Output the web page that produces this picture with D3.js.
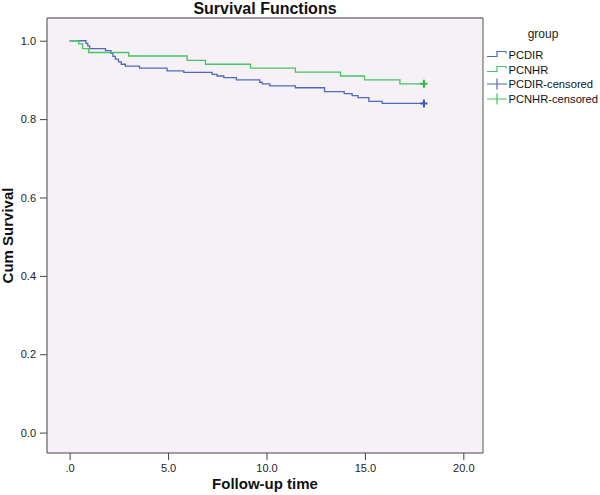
<!DOCTYPE html>
<html>
<head>
<meta charset="utf-8">
<script src="https://cdn.jsdelivr.net/npm/d3@7/dist/d3.min.js"></script>
<style>
  html, body { margin: 0; padding: 0; background: #ffffff; }
  svg { display: block; font-family: "Liberation Sans", Arial, sans-serif; }
</style>
</head>
<body>
<svg id="chart" width="600" height="495"></svg>
<script>
// ---- data ----
const groups = ["PCDIR", "PCNHR"];
const pcdirTimes = [0, 0.83, 0.92, 1.02, 1.82, 2.10, 2.20, 2.32, 2.48, 2.62, 2.83, 3.55, 4.95, 5.80, 7.24, 7.49, 7.83, 8.47, 9.66, 9.78, 10.17, 11.47, 12.95, 13.95, 14.35, 14.65, 15.20, 15.88];
const pcdirSurv  = [1.0, 0.993, 0.987, 0.980, 0.975, 0.968, 0.960, 0.953, 0.946, 0.940, 0.935, 0.930, 0.923, 0.919, 0.914, 0.910, 0.906, 0.900, 0.894, 0.890, 0.885, 0.880, 0.870, 0.865, 0.860, 0.855, 0.845, 0.840];
const pcnhrTimes = [0, 0.46, 0.66, 0.97, 3.00, 5.97, 6.90, 9.19, 11.47, 13.76, 14.98, 16.78];
const pcnhrSurv  = [1.0, 0.992, 0.980, 0.970, 0.961, 0.950, 0.940, 0.930, 0.920, 0.910, 0.900, 0.890];
const censorTimes = [18.0, 18.0];
const xTicks = [0, 5, 10, 15, 20];
const xTickLabels = [".0", "5.0", "10.0", "15.0", "20.0"];
const yTicks = [0, 0.2, 0.4, 0.6, 0.8, 1.0];
const yTickLabels = ["0.0", "0.2", "0.4", "0.6", "0.8", "1.0"];
const legendLabels = ["PCDIR", "PCNHR", "PCDIR-censored", "PCNHR-censored"];
const colors = ["#5068c2", "#48c464"];
const markColors = ["#3e58ac", "#2eb848"];

const svg = d3.select("#chart");
const L = 47, R = 483, T = 18, B = 453;

const x = d3.scaleLinear().domain([-1.15, 21.0]).range([L, R]);
const y = d3.scaleLinear().domain([-0.052, 1.058]).range([B, T]);

// plot background
svg.append("rect").attr("x", L).attr("y", T).attr("width", R - L).attr("height", B - T)
  .attr("fill", "#f6f1f6");

// frame
svg.append("line").attr("x1", L).attr("x2", R).attr("y1", T).attr("y2", T)
  .attr("stroke", "#9a9a9a").attr("stroke-width", 2);
svg.append("line").attr("x1", R).attr("x2", R).attr("y1", T).attr("y2", B)
  .attr("stroke", "#555").attr("stroke-width", 1);

// axes
const yAxis = d3.axisLeft(y).tickValues(yTicks).tickSize(7).tickPadding(4)
  .tickFormat((d, i) => yTickLabels[i]);
const gy = svg.append("g").attr("transform", `translate(${L},0)`).call(yAxis);
gy.select(".domain").attr("d", `M0,${T}V${B}`).attr("stroke", "#444");
gy.selectAll(".tick line").attr("stroke", "#444");
gy.selectAll(".tick text").attr("font-size", 11).attr("fill", "#222")
  .attr("font-family", "Liberation Sans, Arial, sans-serif");

const xAxis = d3.axisBottom(x).tickValues(xTicks).tickSize(7).tickPadding(4)
  .tickFormat((d, i) => xTickLabels[i]);
const gx = svg.append("g").attr("transform", `translate(0,${B})`).call(xAxis);
gx.select(".domain").attr("d", `M${L},0H${R}`).attr("stroke", "#444");
gx.selectAll(".tick line").attr("stroke", "#444");
gx.selectAll(".tick text").attr("font-size", 11).attr("fill", "#222")
  .attr("font-family", "Liberation Sans, Arial, sans-serif");

// curves
const seriesData = [
  pcdirTimes.map((t, i) => ({ t, s: pcdirSurv[i] })).concat([{ t: censorTimes[0], s: pcdirSurv[pcdirSurv.length - 1] }]),
  pcnhrTimes.map((t, i) => ({ t, s: pcnhrSurv[i] })).concat([{ t: censorTimes[1], s: pcnhrSurv[pcnhrSurv.length - 1] }])
];
const line = d3.line().x(d => x(d.t)).y(d => y(d.s)).curve(d3.curveStepAfter);
svg.selectAll("path.km").data(seriesData).join("path")
  .attr("class", "km")
  .attr("d", line)
  .attr("fill", "none")
  .attr("stroke", (d, i) => colors[i])
  .attr("stroke-width", 1.3);

// censored marks
seriesData.forEach((d, i) => {
  const last = d[d.length - 1];
  const cx = x(last.t), cy = y(last.s);
  svg.append("path")
    .attr("d", `M${cx - 3.5},${cy}H${cx + 3.5}M${cx},${cy - 4}V${cy + 4}`)
    .attr("stroke", markColors[i]).attr("stroke-width", 2).attr("fill", "none");
});

// titles
svg.append("text").attr("x", (L + R) / 2).attr("y", 14).attr("text-anchor", "middle")
  .attr("font-size", 16).attr("font-weight", "bold").attr("fill", "#111")
  .text("Survival Functions");
svg.append("text").attr("x", (L + R) / 2).attr("y", 489).attr("text-anchor", "middle")
  .attr("font-size", 15).attr("font-weight", "bold").attr("fill", "#111")
  .text("Follow-up time");
svg.append("text").attr("transform", `translate(13,${(T + B) / 2}) rotate(-90)`)
  .attr("text-anchor", "middle")
  .attr("font-size", 15).attr("font-weight", "bold").attr("fill", "#111")
  .text("Cum Survival");

// legend
const lg = svg.append("g");
lg.append("text").attr("x", 543).attr("y", 38).attr("text-anchor", "middle")
  .attr("font-size", 12).attr("fill", "#222").text("group");
const rowY = [54.5, 69.5, 84, 99];
legendLabels.forEach((lab, i) => {
  const yy = rowY[i];
  const ci = i % 2;
  if (i < 2) {
    lg.append("path")
      .attr("d", `M487,${yy + 2}H497V${yy - 3}H506V${yy - 1}`)
      .attr("fill", "none").attr("stroke", colors[ci]).attr("stroke-width", 1.2);
  } else {
    lg.append("path")
      .attr("d", `M487,${yy}H507M497,${yy - 5.5}V${yy + 5.5}`)
      .attr("fill", "none").attr("stroke", colors[ci]).attr("stroke-width", 1.2);
  }
  lg.append("text").attr("x", 508.5).attr("y", yy + 4)
    .attr("font-size", 11.2).attr("fill", "#111").text(lab);
});
</script>
</body>
</html>
